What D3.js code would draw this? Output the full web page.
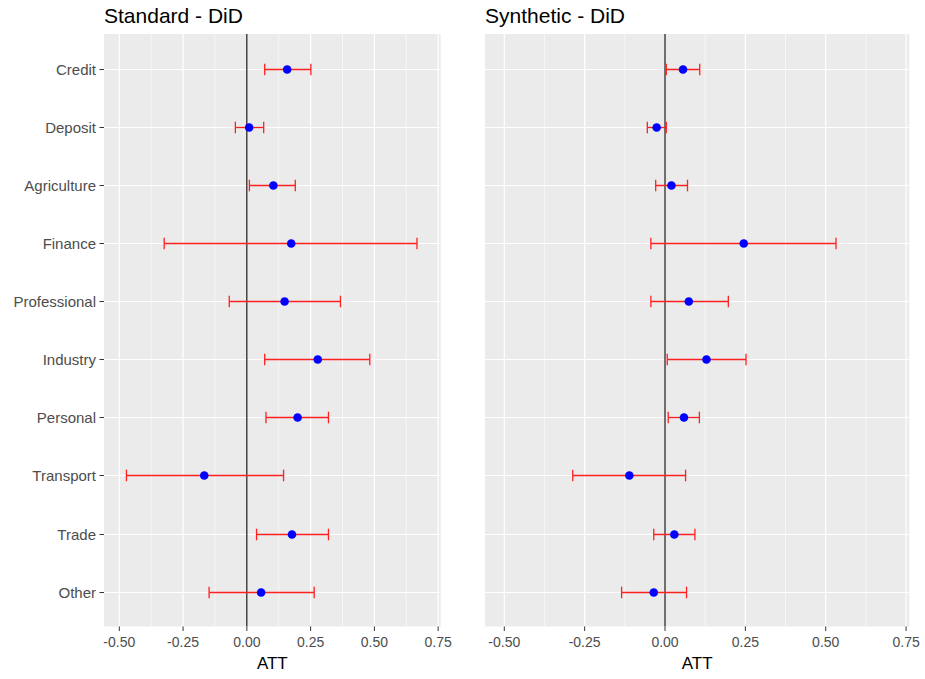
<!DOCTYPE html>
<html>
<head>
<meta charset="utf-8">
<script src="https://cdn.jsdelivr.net/npm/d3@7"></script>
<style>
  body { margin: 0; background: #fff; }
  text { font-family: "Liberation Sans", Arial, sans-serif; }
</style>
</head>
<body>
<script>
// sectors, top to bottom
var categories = ['Credit','Deposit','Agriculture','Finance','Professional','Industry','Personal','Transport','Trade','Other'];

// Standard DiD: estimate and interval
var stdEst = [0.158, 0.009, 0.104, 0.174, 0.148, 0.278, 0.199, -0.167, 0.177, 0.056];
var stdLo  = [0.070, -0.045, 0.010, -0.324, -0.069, 0.070, 0.075, -0.472, 0.038, -0.148];
var stdHi  = [0.251, 0.066, 0.190, 0.667, 0.367, 0.482, 0.320, 0.144, 0.320, 0.264];

// Synthetic DiD
var synEst = [0.056, -0.026, 0.020, 0.245, 0.074, 0.129, 0.059, -0.111, 0.029, -0.035];
var synLo  = [0.004, -0.055, -0.029, -0.044, -0.044, 0.007, 0.010, -0.287, -0.035, -0.135];
var synHi  = [0.108, 0.004, 0.070, 0.532, 0.197, 0.252, 0.107, 0.064, 0.093, 0.067];

var xTicks = [-0.50, -0.25, 0.00, 0.25, 0.50, 0.75];
var xMinor = [-0.375, -0.125, 0.125, 0.375, 0.625];
var xLimits = [-0.5, 0.7];

var W = 925, H = 679;
var svg = d3.select('body').append('svg')
    .attr('width', W)
    .attr('height', H);

var plotTop = 34, plotBottom = 626.5;
var expand = (xLimits[1] - xLimits[0]) * 0.05;
var xDomain = [xLimits[0] - expand, xLimits[1] + expand];
var fmt = d3.formatLocale({decimal: '.', thousands: ',', grouping: [3], currency: ['', ''], minus: '-'}).format('.2f');

function drawPanel(left, right, title, est, lo, hi, showY) {
  var x = d3.scaleLinear().domain(xDomain).range([left, right]);
  // discrete axis with ggplot's 0.6 expansion
  var yScale = d3.scalePoint().domain(categories).range([plotTop, plotBottom]).padding(0.6);
  var y = d => Math.round(yScale(d)) + 0.5;
  var step = yScale.step();

  var g = svg.append('g');

  g.append('rect')
    .attr('x', left).attr('y', plotTop)
    .attr('width', right - left).attr('height', plotBottom - plotTop)
    .attr('fill', '#EBEBEB');

  g.selectAll('.minor').data(xMinor).enter().append('line')
    .attr('x1', d => x(d)).attr('x2', d => x(d))
    .attr('y1', plotTop).attr('y2', plotBottom)
    .attr('stroke', '#fff').attr('stroke-width', 0.6);

  g.selectAll('.majx').data(xTicks).enter().append('line')
    .attr('x1', d => x(d)).attr('x2', d => x(d))
    .attr('y1', plotTop).attr('y2', plotBottom)
    .attr('stroke', '#fff').attr('stroke-width', 1.2);

  g.selectAll('.majy').data(categories).enter().append('line')
    .attr('x1', left).attr('x2', right)
    .attr('y1', d => y(d)).attr('y2', d => y(d))
    .attr('stroke', '#fff').attr('stroke-width', 1.2);

  // zero reference line
  g.append('line')
    .attr('x1', x(0)).attr('x2', x(0))
    .attr('y1', plotTop).attr('y2', plotBottom)
    .attr('stroke', '#000').attr('stroke-width', 1.1);

  var cap = step * 0.1;
  var bars = g.selectAll('.eb').data(categories).enter().append('g');
  bars.append('line')
    .attr('x1', (d, i) => x(lo[i])).attr('x2', (d, i) => x(hi[i]))
    .attr('y1', d => y(d)).attr('y2', d => y(d));
  bars.append('line')
    .attr('x1', (d, i) => x(lo[i])).attr('x2', (d, i) => x(lo[i]))
    .attr('y1', d => y(d) - cap).attr('y2', d => y(d) + cap);
  bars.append('line')
    .attr('x1', (d, i) => x(hi[i])).attr('x2', (d, i) => x(hi[i]))
    .attr('y1', d => y(d) - cap).attr('y2', d => y(d) + cap);
  bars.selectAll('line').attr('stroke', '#ff2020').attr('stroke-width', 1.3);

  g.selectAll('.pt').data(categories).enter().append('circle')
    .attr('cx', (d, i) => x(est[i]))
    .attr('cy', d => y(d))
    .attr('r', 4.3)
    .attr('fill', '#0000FF');

  // x axis
  var xt = g.selectAll('.xt').data(xTicks).enter().append('g');
  xt.append('line')
    .attr('x1', d => x(d)).attr('x2', d => x(d))
    .attr('y1', plotBottom).attr('y2', plotBottom + 4.5)
    .attr('stroke', '#333').attr('stroke-width', 1);
  xt.append('text')
    .attr('x', d => x(d)).attr('y', 647)
    .attr('text-anchor', 'middle')
    .attr('font-size', 14)
    .attr('fill', '#4D4D4D')
    .text(d => fmt(d));

  g.append('text')
    .attr('x', (left + right) / 2).attr('y', 669)
    .attr('text-anchor', 'middle')
    .attr('font-size', 17)
    .attr('fill', '#000')
    .text('ATT');

  if (showY) {
    var yt = g.selectAll('.yt').data(categories).enter().append('g');
    yt.append('line')
      .attr('x1', left - 4.5).attr('x2', left)
      .attr('y1', d => y(d)).attr('y2', d => y(d))
      .attr('stroke', '#333').attr('stroke-width', 1);
    yt.append('text')
      .attr('x', left - 8).attr('y', d => y(d))
      .attr('dy', '0.35em')
      .attr('text-anchor', 'end')
      .attr('font-size', 15)
      .attr('fill', '#4D4D4D')
      .text(d => d);
  }

  g.append('text')
    .attr('x', left).attr('y', 23)
    .attr('font-size', 21)
    .attr('fill', '#000')
    .text(title);
}

drawPanel(104, 440.7, 'Standard - DiD', stdEst, stdLo, stdHi, true);
drawPanel(485, 909.3, 'Synthetic - DiD', synEst, synLo, synHi, false);
</script>
</body>
</html>
